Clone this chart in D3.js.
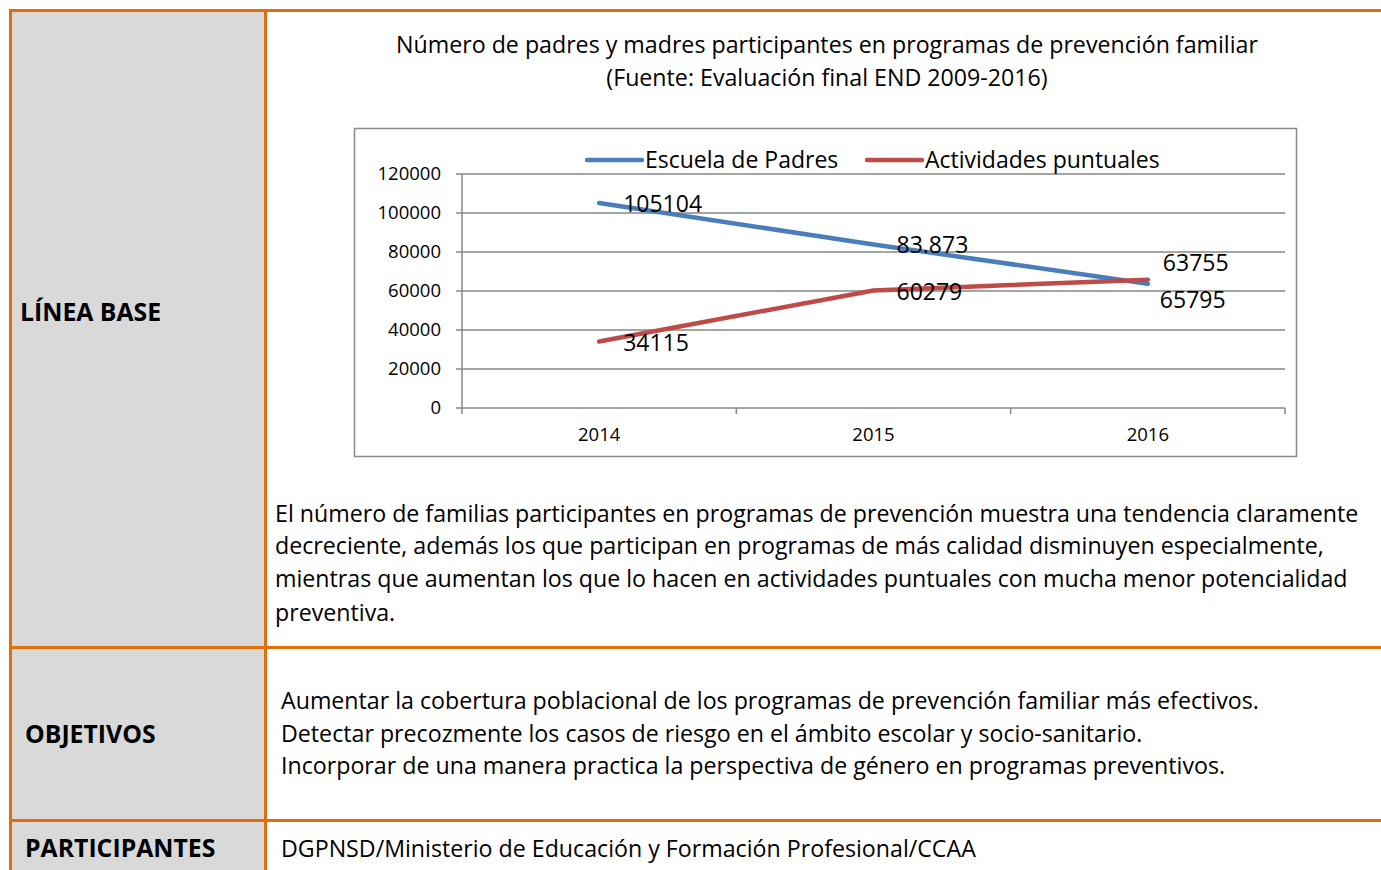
<!DOCTYPE html>
<html>
<head>
<meta charset="utf-8">
<script src="https://cdn.jsdelivr.net/npm/d3@7"></script>
<style>
    html, body { margin: 0; padding: 0; background: #fff; }
    svg { display: block; font-family: "Open Sans", sans-serif; }
    .grid line { stroke: #878787; stroke-width: 1.5; }
    .tick-label { font-size: 18.5px; fill: #000; }
</style>
</head>
<body>
<div id="page"></div>
<script>
// Chart data
const years = ['2014', '2015', '2016'];
const seriesNames = ['Escuela de Padres', 'Actividades puntuales'];
const escuelaPadres = [105104, 83873, 63755];
const actividadesPuntuales = [34115, 60279, 65795];
const escuelaLabels = ['105104', '83.873', '63755'];
const actividadesLabels = ['34115', '60279', '65795'];
const yTicks = [0, 20000, 40000, 60000, 80000, 100000, 120000];

// Table texts
const titleLines = [
    'Número de padres y madres participantes en programas de prevención familiar',
    '(Fuente: Evaluación final END 2009-2016)'
];
const bodyLines = [
    'El número de familias participantes en programas de prevención muestra una tendencia claramente',
    'decreciente, además los que participan en programas de más calidad disminuyen especialmente,',
    'mientras que aumentan los que lo hacen en actividades puntuales con mucha menor potencialidad',
    'preventiva.'
];
const objetivosLines = [
    'Aumentar la cobertura poblacional de los programas de prevención familiar más efectivos.',
    'Detectar precozmente los casos de riesgo en el ámbito escolar y socio-sanitario.',
    'Incorporar de una manera practica la perspectiva de género en programas preventivos.'
];
const participantesText = 'DGPNSD/Ministerio de Educación y Formación Profesional/CCAA';

const width = 1381;
const height = 870;
const orange = '#E46C0A';
const grey = '#D9D9D9';
const textSize = '23.2px';

const svg = d3.select('#page').append('svg')
    .attr('width', width)
    .attr('height', height);

// ---------- Table frame ----------
const colX = 265.5;
const rowY = [10.5, 647.5, 820.5];

svg.append('rect')
    .attr('x', 10.5).attr('y', 10.5)
    .attr('width', colX - 10.5).attr('height', height)
    .attr('fill', grey);

const frame = svg.append('g')
    .attr('stroke', orange)
    .attr('stroke-width', 3);

rowY.forEach(y => {
    frame.append('line')
        .attr('x1', 9).attr('x2', width)
        .attr('y1', y).attr('y2', y);
});
frame.append('line').attr('x1', 10.5).attr('x2', 10.5).attr('y1', 9).attr('y2', height);
frame.append('line').attr('x1', colX).attr('x2', colX).attr('y1', 9).attr('y2', height);

// Row headers
const headers = [
    { text: 'LÍNEA BASE', x: 20, y: 321 },
    { text: 'OBJETIVOS', x: 25, y: 743 },
    { text: 'PARTICIPANTES', x: 25, y: 857 }
];
svg.selectAll('text.header')
    .data(headers)
    .enter().append('text')
    .attr('class', 'header')
    .attr('x', d => d.x)
    .attr('y', d => d.y)
    .style('font-size', '24.8px')
    .style('font-weight', 700)
    .text(d => d.text);

// ---------- Chart title ----------
svg.selectAll('text.title')
    .data(titleLines)
    .enter().append('text')
    .attr('class', 'title')
    .attr('x', 827)
    .attr('y', (d, i) => 53 + i * 33)
    .attr('text-anchor', 'middle')
    .style('font-size', textSize)
    .text(d => d);

// ---------- Chart box ----------
svg.append('rect')
    .attr('x', 354.5).attr('y', 128.5)
    .attr('width', 942).attr('height', 328)
    .attr('fill', '#fff')
    .attr('stroke', '#8A8A8A')
    .attr('stroke-width', 1.5);

const plot = { left: 462, right: 1285, top: 174, bottom: 408 };

const x = d3.scaleBand()
    .domain(years)
    .range([plot.left, plot.right]);

const y = d3.scaleLinear()
    .domain([0, 120000])
    .range([plot.bottom, plot.top]);

// Horizontal gridlines (the 0 line doubles as the x axis)
const grid = svg.append('g').attr('class', 'grid');
grid.selectAll('line.h')
    .data(yTicks)
    .enter().append('line')
    .attr('class', 'h')
    .attr('x1', plot.left - 6).attr('x2', plot.right)
    .attr('y1', d => y(d)).attr('y2', d => y(d));

// Y axis line
grid.append('line')
    .attr('x1', plot.left).attr('x2', plot.left)
    .attr('y1', plot.top).attr('y2', plot.bottom + 6);

// X ticks at band edges
const edges = years.map(d => x(d)).concat([plot.right]);
grid.selectAll('line.xt')
    .data(edges.slice(1))
    .enter().append('line')
    .attr('class', 'xt')
    .attr('x1', d => d).attr('x2', d => d)
    .attr('y1', plot.bottom).attr('y2', plot.bottom + 6);

// Y tick labels
svg.selectAll('text.ylab')
    .data(yTicks)
    .enter().append('text')
    .attr('class', 'tick-label')
    .attr('x', plot.left - 21)
    .attr('y', d => y(d))
    .attr('dy', '0.35em')
    .attr('text-anchor', 'end')
    .text(d => d);

// X tick labels
svg.selectAll('text.xlab')
    .data(years)
    .enter().append('text')
    .attr('class', 'tick-label')
    .attr('x', d => x(d) + x.bandwidth() / 2)
    .attr('y', 435)
    .attr('dy', '0.35em')
    .attr('text-anchor', 'middle')
    .text(d => d);

// ---------- Series ----------
const series = [
    { name: seriesNames[0], values: escuelaPadres, labels: escuelaLabels, color: '#4A7EBB' },
    { name: seriesNames[1], values: actividadesPuntuales, labels: actividadesLabels, color: '#BE4B48' }
];

// label nudges, like the hand-moved labels in the original
const labelShift = [
    [[24, 1], [23, 1], [15, -21]],
    [[24, 1], [23, 1], [12, 20]]
];

const line = d3.line()
    .x((d, i) => x(years[i]) + x.bandwidth() / 2)
    .y(d => y(d));

series.forEach(s => {
    svg.append('path')
        .datum(s.values)
        .attr('d', line)
        .attr('fill', 'none')
        .attr('stroke', s.color)
        .attr('stroke-width', 4.5)
        .attr('stroke-linecap', 'round')
        .attr('stroke-linejoin', 'round');
});

series.forEach((s, si) => {
    svg.selectAll(`text.lab${si}`)
        .data(s.values)
        .enter().append('text')
        .attr('x', (d, i) => x(years[i]) + x.bandwidth() / 2 + labelShift[si][i][0])
        .attr('y', (d, i) => y(d) + labelShift[si][i][1])
        .attr('dy', '0.35em')
        .style('font-size', '23px')
        .text((d, i) => s.labels[i]);
});

// ---------- Legend ----------
const legendX = [587, 867];
series.forEach((s, si) => {
    const lg = svg.append('g').attr('transform', `translate(${legendX[si]},160)`);
    lg.append('line')
        .attr('x1', 0).attr('x2', 55)
        .attr('stroke', s.color)
        .attr('stroke-width', 4.5)
        .attr('stroke-linecap', 'round');
    lg.append('text')
        .attr('x', 58)
        .attr('dy', '0.35em')
        .style('font-size', '23px')
        .text(s.name);
});

// ---------- Cell texts ----------
svg.selectAll('text.body')
    .data(bodyLines)
    .enter().append('text')
    .attr('x', 275)
    .attr('y', (d, i) => [522, 554, 587, 621][i])
    .style('font-size', textSize)
    .text(d => d);

svg.selectAll('text.obj')
    .data(objetivosLines)
    .enter().append('text')
    .attr('x', 281)
    .attr('y', (d, i) => 709 + i * 32.5)
    .style('font-size', textSize)
    .text(d => d);

svg.append('text')
    .attr('x', 281)
    .attr('y', 857)
    .style('font-size', textSize)
    .text(participantesText);
</script>
</body>
</html>
